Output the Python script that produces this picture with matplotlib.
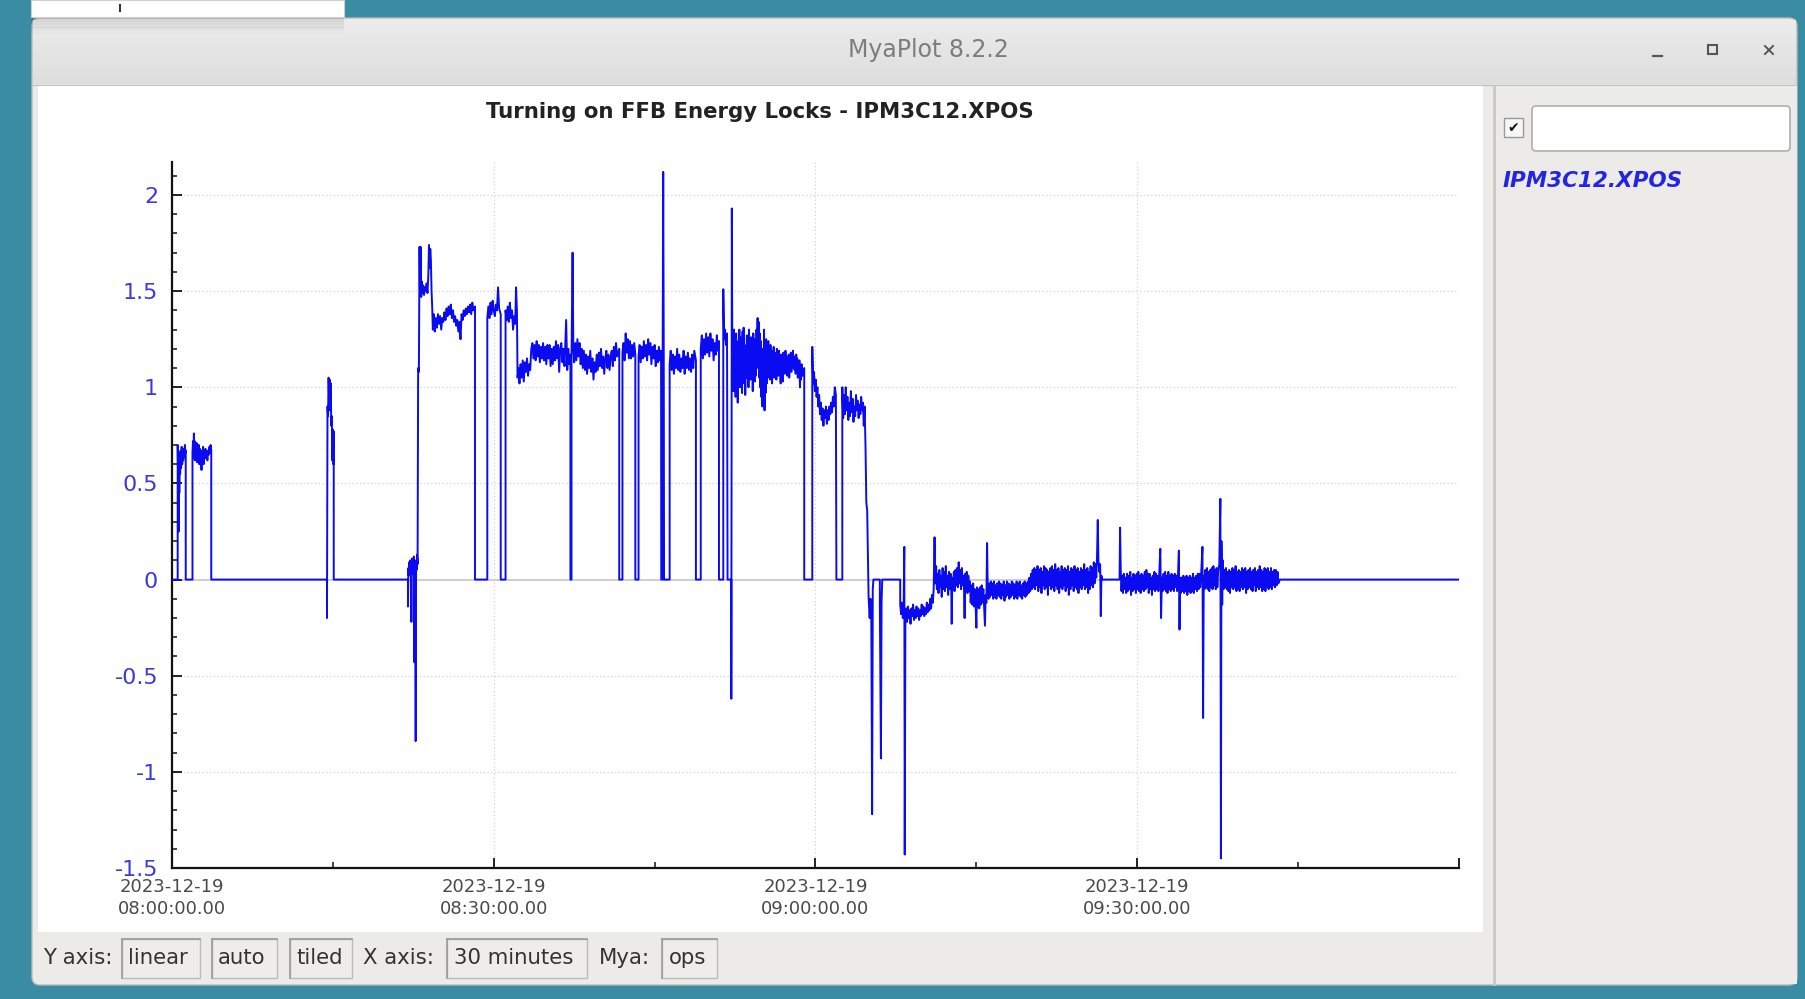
import matplotlib
matplotlib.use("Agg")
import matplotlib.pyplot as plt
from matplotlib.patches import Rectangle, FancyBboxPatch
import numpy as np
import pandas as pd

# ---------------- data: (minutes after 08:00, IPM3C12.XPOS) ----------------
seg_0800 = [(0, 0), (0.53, 0), (0.53, 0.70), (0.58, 0.52), (0.62, 0.25), (0.64, 0.66), (0.68, 0.45),
            (0.72, 0.62), (0.76, 0.55), (0.80, 0.67), (0.85, 0.58), (0.90, 0.69), (0.95, 0.60),
            (1.00, 0.67), (1.05, 0.62), (1.10, 0.68), (1.15, 0.64), (1.20, 0.70), (1.25, 0.66),
            (1.28, 0.67), (1.28, 0), (1.91, 0), (1.91, 0.66), (1.96, 0.72), (2.00, 0.63), (2.04, 0.76),
            (2.08, 0.65), (2.12, 0.72), (2.16, 0.62), (2.20, 0.70), (2.25, 0.64), (2.30, 0.71),
            (2.35, 0.61), (2.40, 0.69), (2.45, 0.63), (2.50, 0.70), (2.55, 0.60), (2.60, 0.68),
            (2.65, 0.64), (2.70, 0.66), (2.75, 0.57), (2.80, 0.67), (2.85, 0.62), (2.90, 0.69),
            (2.95, 0.60), (3.00, 0.66), (3.06, 0.63), (3.12, 0.68), (3.18, 0.64), (3.24, 0.66),
            (3.30, 0.62), (3.36, 0.67), (3.42, 0.65), (3.48, 0.69), (3.54, 0.66), (3.60, 0.70),
            (3.66, 0.67), (3.66, 0), (14.45, 0), (14.45, -0.20), (14.50, 0.90), (14.55, 0.85),
            (14.60, 1.05), (14.65, 0.93), (14.70, 1.04), (14.75, 0.88), (14.80, 1.02), (14.85, 0.80),
            (14.90, 0.85), (14.95, 0.62), (15.00, 0.78), (15.05, 0.60), (15.08, 0.77), (15.08, 0),
            (22.00, 0)]

seg_0822 = [(22.00, -0.14), (22.04, 0.06), (22.08, 0.02), (22.12, 0.09), (22.16, 0.03), (22.20, 0.10),
            (22.24, 0.04), (22.28, 0.08), (22.32, -0.22), (22.36, 0.07), (22.40, 0.11), (22.44, 0.03),
            (22.48, 0.09), (22.52, 0.05), (22.56, 0.12), (22.60, -0.43), (22.64, 0.08), (22.68, 0.06),
            (22.72, -0.84), (22.76, 0.10), (22.80, 0.05), (22.85, 0.13), (22.90, 0.08), (22.95, 1.10),
            (23.02, 1.08), (23.08, 1.73), (23.12, 1.50), (23.18, 1.73), (23.24, 1.47), (23.30, 1.55),
            (23.36, 1.49), (23.42, 1.53), (23.50, 1.48), (23.58, 1.52), (23.66, 1.50), (23.74, 1.54),
            (23.82, 1.49), (23.90, 1.58), (23.96, 1.74), (24.02, 1.62), (24.08, 1.72), (24.14, 1.66),
            (24.20, 1.50), (24.26, 1.42), (24.32, 1.30), (24.40, 1.38)]

seg_0824 = [(24.50, 1.29), (24.60, 1.36), (24.70, 1.31), (24.80, 1.38), (24.90, 1.33), (25.00, 1.37),
            (25.10, 1.30), (25.20, 1.36), (25.30, 1.34), (25.40, 1.39), (25.50, 1.35), (25.60, 1.41),
            (25.70, 1.37), (25.80, 1.42), (25.90, 1.38), (26.00, 1.43), (26.10, 1.36), (26.20, 1.40),
            (26.30, 1.34), (26.40, 1.37), (26.50, 1.32), (26.60, 1.35), (26.70, 1.29), (26.80, 1.34),
            (26.90, 1.25), (27.00, 1.38), (27.10, 1.35), (27.20, 1.40), (27.30, 1.37), (27.40, 1.41),
            (27.50, 1.38), (27.60, 1.42), (27.70, 1.39), (27.80, 1.43), (27.90, 1.38), (28.00, 1.44),
            (28.10, 1.40), (28.25, 1.42), (28.25, 0), (29.40, 0), (29.40, 1.36), (29.50, 1.42),
            (29.60, 1.36), (29.70, 1.44), (29.80, 1.38), (29.90, 1.45), (30.00, 1.40), (30.10, 1.37),
            (30.20, 1.43), (30.30, 1.40), (30.40, 1.52), (30.50, 1.41), (30.65, 1.38), (30.65, 0),
            (31.10, 0), (31.10, 1.40), (31.20, 1.35), (31.30, 1.42), (31.40, 1.34), (31.50, 1.44),
            (31.60, 1.36), (31.70, 1.40), (31.80, 1.30), (31.90, 1.37), (32.00, 1.33), (32.08, 1.52),
            (32.16, 1.40), (32.22, 1.05)]

seg_0832 = [(32.30, 1.10), (32.40, 1.02), (32.50, 1.12), (32.60, 1.05), (32.70, 1.14), (32.80, 1.03),
            (32.90, 1.13), (33.00, 1.08), (33.10, 1.15), (33.20, 1.06), (33.30, 1.12), (33.40, 1.09),
            (33.50, 1.20), (33.60, 1.23), (33.70, 1.15), (33.80, 1.22), (33.90, 1.14), (34.00, 1.24),
            (34.10, 1.16), (34.20, 1.22), (34.30, 1.13), (34.40, 1.21), (34.50, 1.15), (34.60, 1.23),
            (34.70, 1.14), (34.80, 1.21), (34.90, 1.12), (35.00, 1.22), (35.10, 1.15), (35.20, 1.22),
            (35.30, 1.11), (35.40, 1.20), (35.50, 1.12), (35.60, 1.21), (35.70, 1.14), (35.80, 1.24),
            (35.90, 1.15), (36.00, 1.22), (36.10, 1.08), (36.20, 1.20), (36.30, 1.23), (36.40, 1.13),
            (36.50, 1.20), (36.60, 1.11), (36.75, 1.35), (36.85, 1.09), (36.95, 1.20), (37.05, 1.12),
            (37.15, 1.17), (37.15, 0), (37.25, 0), (37.25, 1.15), (37.35, 1.70), (37.42, 1.20),
            (37.50, 1.13), (37.60, 1.23), (37.70, 1.14), (37.80, 1.25), (37.90, 1.16), (38.00, 1.23),
            (38.10, 1.12), (38.20, 1.20), (38.30, 1.10), (38.40, 1.19), (38.50, 1.09), (38.60, 1.17),
            (38.70, 1.07), (38.80, 1.16), (38.90, 1.10), (39.00, 1.19), (39.10, 1.08), (39.20, 1.15),
            (39.30, 1.04), (39.40, 1.13), (39.50, 1.08), (39.60, 1.17), (39.70, 1.09), (39.80, 1.18),
            (39.90, 1.11), (40.00, 1.20), (40.10, 1.10), (40.20, 1.16), (40.30, 1.07), (40.40, 1.15),
            (40.50, 1.19), (40.60, 1.10), (40.70, 1.17), (40.80, 1.09), (40.90, 1.16), (41.00, 1.19),
            (41.10, 1.11), (41.20, 1.21), (41.30, 1.14), (41.40, 1.23), (41.50, 1.16), (41.70, 1.20),
            (41.70, 0), (42.00, 0), (42.00, 1.18), (42.10, 1.23), (42.20, 1.14), (42.30, 1.28),
            (42.40, 1.18), (42.50, 1.25), (42.60, 1.15), (42.70, 1.24), (42.80, 1.15), (42.90, 1.22),
            (43.00, 1.16), (43.10, 1.23), (43.20, 1.17), (43.20, 0), (43.50, 0), (43.50, 1.16),
            (43.60, 1.22), (43.70, 1.13), (43.80, 1.21), (43.90, 1.15), (44.00, 1.24), (44.10, 1.16),
            (44.20, 1.22), (44.30, 1.14), (44.40, 1.25), (44.50, 1.17), (44.60, 1.23), (44.70, 1.12),
            (44.80, 1.21), (44.90, 1.15), (45.00, 1.22), (45.10, 1.11), (45.20, 1.19), (45.30, 1.13),
            (45.40, 1.21), (45.50, 1.14), (45.60, 1.19), (45.62, 0), (45.75, 0), (45.75, 1.20),
            (45.80, 2.12), (45.85, 1.18), (45.88, 0), (46.40, 0), (46.40, 1.12), (46.50, 1.19),
            (46.60, 1.09), (46.70, 1.17), (46.80, 1.07), (46.90, 1.16), (47.00, 1.10), (47.10, 1.20),
            (47.20, 1.09), (47.30, 1.17), (47.40, 1.08), (47.50, 1.15), (47.60, 1.10), (47.70, 1.19),
            (47.80, 1.07), (47.90, 1.16), (48.00, 1.10), (48.10, 1.18), (48.20, 1.09), (48.30, 1.15),
            (48.40, 1.08), (48.50, 1.17), (48.60, 1.10), (48.70, 1.19), (48.85, 1.14), (48.85, 0),
            (49.30, 0), (49.30, 1.20), (49.40, 1.27), (49.50, 1.15), (49.60, 1.25), (49.70, 1.17),
            (49.80, 1.28), (49.90, 1.18), (50.00, 1.26), (50.10, 1.16), (50.20, 1.28), (50.30, 1.19),
            (50.40, 1.25), (50.50, 1.14), (50.60, 1.23), (50.70, 1.17), (50.80, 1.27), (50.90, 1.19),
            (51.00, 1.24), (51.00, 0), (51.40, 0), (51.40, 1.51), (51.48, 1.25), (51.56, 1.30),
            (51.65, 1.22), (51.75, 1.28), (51.80, 0), (52.15, 0), (52.15, -0.62), (52.20, 1.93),
            (52.25, 1.10)]

seg_0852 = [(52.30, 1.25), (52.35, 0.98), (52.40, 1.30), (52.45, 1.05), (52.50, 1.22), (52.55, 0.95),
            (52.60, 1.28), (52.65, 1.02), (52.70, 1.18), (52.75, 0.92), (52.80, 1.24), (52.85, 1.08),
            (52.90, 1.30), (52.95, 1.00), (53.00, 1.26), (53.05, 1.04), (53.10, 1.20), (53.15, 0.97),
            (53.20, 1.29), (53.25, 1.06), (53.30, 1.31), (53.35, 1.02), (53.40, 1.22), (53.45, 0.96),
            (53.50, 1.19), (53.55, 1.05), (53.60, 1.27), (53.65, 1.08), (53.70, 1.24), (53.75, 1.00),
            (53.80, 1.30), (53.85, 1.10), (53.90, 1.22), (53.95, 1.04), (54.00, 1.26), (54.05, 1.08),
            (54.10, 1.20), (54.15, 0.98), (54.20, 1.28), (54.25, 1.10), (54.30, 1.25), (54.35, 1.03),
            (54.40, 1.22), (54.45, 1.06), (54.50, 1.30), (54.55, 1.12), (54.60, 1.36), (54.65, 1.10),
            (54.70, 1.34), (54.75, 1.05), (54.80, 1.28), (54.85, 1.00), (54.90, 1.24), (54.95, 0.95),
            (55.00, 1.20), (55.05, 0.90), (55.10, 1.18), (55.15, 0.93), (55.20, 1.30), (55.25, 0.88),
            (55.30, 1.22), (55.35, 0.97), (55.40, 1.25), (55.45, 1.02), (55.50, 1.20), (55.55, 1.05),
            (55.60, 1.24), (55.65, 1.08), (55.70, 1.18), (55.75, 1.04), (55.80, 1.22), (55.85, 1.06),
            (55.90, 1.19), (55.95, 1.02), (56.00, 1.16), (56.05, 1.08), (56.10, 1.21), (56.15, 1.05),
            (56.20, 1.18), (56.25, 1.10), (56.30, 1.15), (56.35, 1.04), (56.40, 1.20), (56.45, 1.10),
            (56.50, 1.16), (56.55, 1.06), (56.60, 1.19), (56.65, 1.09), (56.70, 1.14), (56.75, 1.02),
            (56.80, 1.17), (56.85, 1.08), (56.90, 1.13), (56.95, 1.03), (57.00, 1.18), (57.05, 1.10),
            (57.10, 1.15), (57.15, 1.07), (57.20, 1.19), (57.25, 1.11), (57.30, 1.16), (57.35, 1.06),
            (57.40, 1.14), (57.45, 1.09), (57.50, 1.17), (57.55, 1.05), (57.60, 1.13), (57.65, 1.10),
            (57.70, 1.18), (57.75, 1.08), (57.80, 1.15), (57.85, 1.10), (57.90, 1.19), (57.95, 1.12),
            (58.00, 1.16), (58.05, 1.09), (58.10, 1.14), (58.15, 1.07), (58.20, 1.17), (58.25, 1.10),
            (58.30, 1.15), (58.35, 1.05), (58.40, 1.12), (58.45, 1.08), (58.50, 1.14), (58.55, 1.00),
            (58.60, 1.10), (58.65, 1.04), (58.70, 1.12), (58.80, 1.06), (58.95, 1.10), (58.95, 0),
            (59.70, 0)]

seg_0859 = [(59.70, 1.21), (59.78, 1.02), (59.86, 1.08), (59.94, 0.98), (60.02, 1.04), (60.10, 0.95),
            (60.18, 1.00), (60.26, 0.90), (60.34, 0.96), (60.42, 0.86), (60.50, 0.92), (60.58, 0.83),
            (60.66, 0.89), (60.74, 0.80), (60.82, 0.88), (60.90, 0.84), (60.98, 0.90), (61.06, 0.81),
            (61.14, 0.88), (61.22, 0.83), (61.30, 0.90), (61.38, 0.86), (61.46, 0.92), (61.54, 0.87),
            (61.62, 0.95), (61.70, 0.90), (61.80, 1.00), (61.90, 0.96), (61.95, 0), (62.50, 0),
            (62.50, 1.00), (62.58, 0.84), (62.66, 0.96), (62.74, 0.86), (62.82, 1.00), (62.90, 0.88),
            (62.98, 0.95), (63.06, 0.83), (63.14, 0.92), (63.22, 0.85), (63.30, 0.98), (63.38, 0.87),
            (63.46, 0.94), (63.54, 0.82), (63.62, 0.90), (63.70, 0.85), (63.78, 0.96), (63.86, 0.88),
            (63.94, 0.93), (64.02, 0.84), (64.10, 0.91), (64.18, 0.86), (64.26, 0.95), (64.34, 0.88),
            (64.42, 0.92), (64.50, 0.80), (64.58, 0.90), (64.66, 0.70), (64.74, 0.40), (64.82, 0.36)]

seg_0905 = [(64.95, -0.09), (65.05, -0.20), (65.12, -0.10), (65.20, -0.15), (65.28, -1.22),
            (65.34, -0.05), (65.40, 0), (66.00, 0), (66.00, -0.13), (66.10, -0.93), (66.16, -0.12),
            (66.22, 0), (67.90, 0), (67.90, -0.13), (67.98, -0.18), (68.06, -0.12), (68.14, -0.20),
            (68.22, -0.14), (68.28, 0.17), (68.32, -1.43), (68.38, -0.22), (68.46, -0.15),
            (68.54, -0.22), (68.62, -0.14), (68.70, -0.20), (68.78, -0.16), (68.86, -0.23),
            (68.94, -0.15), (69.02, -0.19), (69.10, -0.13), (69.18, -0.21), (69.26, -0.16),
            (69.34, -0.20), (69.42, -0.14), (69.50, -0.19), (69.58, -0.15), (69.66, -0.21),
            (69.74, -0.16), (69.82, -0.19), (69.90, -0.13), (69.98, -0.18), (70.06, -0.14),
            (70.14, -0.19), (70.22, -0.15), (70.30, -0.18), (70.38, -0.12), (70.46, -0.17),
            (70.54, -0.13), (70.62, -0.16), (70.70, -0.10), (70.78, -0.15), (70.86, -0.08),
            (70.94, -0.12), (71.02, -0.05), (71.10, 0.22), (71.16, -0.02)]

seg_0911 = [(71.25, 0.07), (71.32, -0.05), (71.40, 0.03), (71.47, -0.07), (71.55, 0.05), (71.62, -0.04),
            (71.70, 0.02), (71.77, -0.09), (71.85, 0.06), (71.92, -0.05), (72.00, 0.04), (72.07, -0.06),
            (72.15, 0.07), (72.22, -0.04), (72.30, 0.02), (72.37, -0.08), (72.45, 0.04), (72.52, -0.05),
            (72.60, 0.03), (72.66, -0.06), (72.70, -0.23), (72.76, 0.01), (72.83, -0.05), (72.90, 0.04),
            (72.97, -0.06), (73.05, 0.05), (73.12, -0.03), (73.20, 0.06), (73.27, -0.04), (73.35, 0.09),
            (73.42, -0.02), (73.50, 0.05), (73.57, -0.05), (73.65, 0.06), (73.72, -0.03), (73.80, 0.02),
            (73.86, -0.07), (73.90, -0.20), (73.96, 0.03), (74.03, -0.05), (74.10, 0.04), (74.17, -0.07),
            (74.25, 0.02), (74.32, -0.06), (74.40, -0.01), (74.47, -0.12), (74.55, -0.03), (74.62, -0.13),
            (74.70, -0.02), (74.77, -0.14), (74.85, -0.05), (74.92, -0.12), (75.00, -0.25),
            (75.06, -0.04), (75.13, -0.14), (75.20, -0.05), (75.27, -0.15), (75.35, -0.04),
            (75.42, -0.13), (75.50, -0.03), (75.57, -0.12), (75.65, -0.05), (75.72, -0.14),
            (75.80, -0.24), (75.86, -0.08), (75.93, -0.12), (76.00, 0.19), (76.06, -0.05),
            (76.13, -0.10), (76.20, -0.02), (76.27, -0.09), (76.35, -0.01), (76.42, -0.08),
            (76.50, -0.02), (76.57, -0.10), (76.65, -0.01), (76.72, -0.09), (76.80, -0.03),
            (76.87, -0.10), (76.95, -0.02), (77.02, -0.08), (77.10, -0.01), (77.17, -0.09),
            (77.25, -0.02), (77.32, -0.10), (77.40, -0.03), (77.47, -0.08), (77.55, -0.01),
            (77.62, -0.11), (77.70, -0.03), (77.77, -0.09), (77.85, -0.01), (77.92, -0.08),
            (78.00, -0.02), (78.07, -0.10), (78.15, -0.03), (78.22, -0.09), (78.30, -0.01),
            (78.37, -0.08), (78.45, -0.02), (78.52, -0.10), (78.60, -0.03), (78.67, -0.09),
            (78.75, -0.01), (78.82, -0.10), (78.90, -0.02), (78.97, -0.08), (79.05, -0.01),
            (79.12, -0.09), (79.20, -0.03), (79.27, -0.10), (79.35, -0.02), (79.42, -0.08),
            (79.50, -0.01), (79.57, -0.09), (79.65, -0.02), (79.72, -0.08), (79.80, -0.01),
            (79.87, -0.07), (79.95, 0.01), (80.02, -0.06), (80.10, 0.03), (80.17, -0.05), (80.25, 0.05),
            (80.32, -0.04), (80.40, 0.06), (80.47, -0.05), (80.55, 0.05), (80.62, -0.03), (80.70, 0.07),
            (80.77, -0.06), (80.85, 0.05), (80.92, -0.04), (81.00, 0.06), (81.07, -0.07), (81.15, 0.04),
            (81.22, -0.03), (81.30, 0.07), (81.37, -0.05), (81.45, 0.06), (81.52, -0.04), (81.60, 0.05),
            (81.67, -0.08), (81.75, 0.04), (81.82, -0.03), (81.90, 0.06), (81.97, -0.05), (82.05, 0.07),
            (82.12, -0.04), (82.20, 0.05), (82.27, -0.06), (82.35, 0.08), (82.42, -0.03), (82.50, 0.05),
            (82.57, -0.05), (82.65, 0.06), (82.72, -0.07), (82.80, 0.04), (82.87, -0.04), (82.95, 0.07),
            (83.02, -0.05), (83.10, 0.05), (83.17, -0.03), (83.25, 0.06), (83.32, -0.06), (83.40, 0.05),
            (83.47, -0.04), (83.55, 0.07), (83.62, -0.08), (83.70, 0.04), (83.77, -0.05), (83.85, 0.06),
            (83.92, -0.03), (84.00, 0.05), (84.07, -0.06), (84.15, 0.07), (84.22, -0.04), (84.30, 0.05),
            (84.37, -0.05), (84.45, 0.06), (84.52, -0.07), (84.60, 0.04), (84.67, -0.04), (84.75, 0.06),
            (84.82, -0.05), (84.90, 0.05), (84.97, -0.03), (85.05, 0.08), (85.12, -0.05), (85.20, 0.05),
            (85.27, -0.04), (85.35, 0.06), (85.42, -0.07), (85.50, 0.04), (85.57, -0.05), (85.65, 0.07),
            (85.72, -0.03), (85.80, 0.06), (85.87, -0.04), (85.95, 0.09), (86.02, -0.02), (86.10, 0.08),
            (86.18, 0.01), (86.25, 0.12), (86.32, 0.31), (86.38, 0.10), (86.46, 0.04), (86.54, 0.08),
            (86.60, -0.19), (86.66, 0.02), (86.70, 0)]

seg_0926 = [(88.35, 0), (88.40, 0.27), (88.46, 0.05), (88.53, -0.06), (88.60, 0.02), (88.67, -0.07),
            (88.75, 0.03), (88.82, -0.05), (88.90, 0.01), (88.97, -0.07), (89.05, 0.03), (89.12, -0.06),
            (89.20, 0.02), (89.27, -0.05), (89.35, 0.04), (89.42, -0.08), (89.50, 0.01), (89.57, -0.06),
            (89.65, 0.03), (89.72, -0.05), (89.80, 0.02), (89.87, -0.07), (89.95, 0.03), (90.02, -0.05),
            (90.10, 0.04), (90.17, -0.06), (90.25, 0.02), (90.32, -0.07), (90.40, 0.03), (90.47, -0.05),
            (90.55, 0.02), (90.62, -0.06), (90.70, 0.04), (90.77, -0.05), (90.85, 0.05), (90.92, -0.04),
            (91.00, 0.03), (91.07, -0.07), (91.15, 0.03), (91.22, -0.05), (91.30, 0.01), (91.37, -0.08),
            (91.45, 0.02), (91.52, -0.05), (91.60, 0.04), (91.67, -0.06), (91.75, 0.03), (91.82, -0.05),
            (91.90, 0.02), (91.97, -0.06), (92.05, 0.03), (92.15, 0.16), (92.22, -0.20), (92.30, 0.01),
            (92.37, -0.06), (92.45, 0.03), (92.52, -0.05), (92.60, 0.04), (92.67, -0.06), (92.75, 0.02),
            (92.82, -0.07), (92.90, 0.04), (92.97, -0.05), (93.05, 0.02), (93.12, -0.06), (93.20, 0.03),
            (93.27, -0.05), (93.35, 0.02), (93.42, -0.06), (93.50, 0.03), (93.57, -0.04), (93.65, 0.02),
            (93.72, -0.06), (93.80, 0.03), (93.88, 0.15), (93.94, -0.26), (94.00, 0.01), (94.07, -0.07),
            (94.15, 0.01), (94.22, -0.06), (94.30, 0.02), (94.37, -0.07), (94.45, 0.01), (94.52, -0.06),
            (94.60, 0.02), (94.67, -0.08), (94.75, 0.01), (94.82, -0.06), (94.90, 0.02), (94.97, -0.07),
            (95.05, 0.01), (95.12, -0.06), (95.20, 0.03), (95.27, -0.07), (95.35, 0.01), (95.42, -0.05),
            (95.50, 0.02), (95.57, -0.06), (95.65, 0.03), (95.72, -0.05), (95.80, 0.03), (95.87, -0.04),
            (95.95, 0.02), (96.08, 0.17), (96.14, -0.72), (96.20, 0.02), (96.27, -0.05), (96.35, 0.05),
            (96.42, -0.04), (96.50, 0.06), (96.57, -0.05), (96.65, 0.04), (96.72, -0.06), (96.80, 0.05),
            (96.87, -0.04), (96.95, 0.06), (97.02, -0.05), (97.10, 0.07), (97.17, -0.03), (97.25, 0.05),
            (97.32, -0.05), (97.40, 0.06), (97.47, -0.04), (97.55, 0.05), (97.65, 0.08), (97.75, 0.42),
            (97.80, -1.45), (97.85, 0.20), (97.92, -0.13), (97.98, 0.10), (98.05, -0.05), (98.12, 0.05),
            (98.20, -0.04), (98.27, 0.06), (98.35, -0.05), (98.42, 0.04), (98.50, -0.06), (98.57, 0.05),
            (98.65, -0.07), (98.72, 0.04), (98.80, -0.04), (98.87, 0.06), (98.95, -0.05), (99.02, 0.05),
            (99.10, -0.04), (99.17, 0.07), (99.25, -0.06), (99.32, 0.04), (99.40, -0.05), (99.47, 0.05),
            (99.55, -0.06), (99.62, 0.04), (99.70, -0.04), (99.77, 0.06), (99.85, -0.05), (99.92, 0.05),
            (100.00, -0.04), (100.07, 0.06), (100.15, -0.07), (100.22, 0.04), (100.30, -0.05),
            (100.37, 0.05), (100.45, -0.04), (100.52, 0.06), (100.60, -0.05), (100.67, 0.04),
            (100.75, -0.06), (100.82, 0.05), (100.90, -0.03), (100.97, 0.06), (101.05, -0.06),
            (101.12, 0.04), (101.20, -0.04), (101.27, 0.05), (101.35, -0.05), (101.42, 0.07),
            (101.50, -0.04), (101.57, 0.05), (101.65, -0.06), (101.72, 0.04), (101.80, -0.05),
            (101.87, 0.06), (101.95, -0.06), (102.02, 0.05), (102.10, -0.04), (102.17, 0.06),
            (102.25, -0.05), (102.32, 0.04), (102.40, -0.04), (102.47, 0.06), (102.55, -0.05),
            (102.62, 0.04), (102.70, -0.03), (102.77, 0.05), (102.85, -0.04), (102.92, 0.05),
            (103.00, -0.03), (103.08, 0.04), (103.15, -0.02), (103.30, 0), (120.0, 0)]

start_time = "2023-12-19 08:00:00"
x_major = ["2023-12-19 08:00", "2023-12-19 08:30", "2023-12-19 09:00", "2023-12-19 09:30", "2023-12-19 10:00"]
x_minor = ["2023-12-19 08:15", "2023-12-19 08:45", "2023-12-19 09:15", "2023-12-19 09:45"]
x_labels = ["2023-12-19\n08:00:00.00", "2023-12-19\n08:30:00.00", "2023-12-19\n09:00:00.00",
            "2023-12-19\n09:30:00.00", ""]
y_major = [-1.5, -1, -0.5, 0, 0.5, 1, 1.5, 2]
y_labels = ["-1.5", "-1", "-0.5", "0", "0.5", "1", "1.5", "2"]
y_minor = [-1.4, -1.3, -1.2, -1.1, -0.9, -0.8, -0.7, -0.6, -0.4, -0.3, -0.2, -0.1, 0.1, 0.2, 0.3, 0.4,
           0.6, 0.7, 0.8, 0.9, 1.1, 1.2, 1.3, 1.4, 1.6, 1.7, 1.8, 1.9, 2.1]
y_range = (-1.5, 2.17)

title = "Turning on FFB Energy Locks - IPM3C12.XPOS"
window_title = "MyaPlot 8.2.2"
pv_name = "IPM3C12.XPOS"
status_labels = [("Y axis:", 43, False), ("linear", 128, True), ("auto", 218, True), ("tiled", 296, True),
                 ("X axis:", 363, False), ("30 minutes", 454, True), ("Mya:", 599, False), ("ops", 669, True)]
status_boxes = [(122, 200), (212, 277), (290, 352), (447, 587), (662, 717)]

# ---------------- assemble series ----------------
segments = [seg_0800, seg_0822, seg_0824, seg_0832, seg_0852, seg_0859, seg_0905, seg_0911, seg_0926]
pts = [p for s in segments for p in s]
minutes = np.array([p[0] for p in pts], dtype=float)
values = np.array([p[1] for p in pts], dtype=float)
t0 = pd.Timestamp(start_time)
times = (t0 + pd.to_timedelta(minutes, unit="min")).to_numpy()

W, H = 1805, 999
TEAL = "#3a8ca3"
fig = plt.figure(figsize=(W / 100, H / 100), dpi=100)
fig.patch.set_facecolor(TEAL)

# ---------------- window chrome (pixel coordinates) ----------------
bg = fig.add_axes([0, 0, 1, 1], zorder=0)
bg.set_xlim(0, W)
bg.set_ylim(H, 0)
bg.axis("off")

bg.add_patch(FancyBboxPatch((32, 18), 1765, 967, boxstyle="round,pad=0,rounding_size=8",
                            fc="#edebe8", ec="#b9b9b9", lw=1))
grad = np.linspace(0.925, 0.87, 64).reshape(-1, 1)
bg.imshow(np.dstack([grad, grad, grad]), extent=[33, 1796, 84, 20], aspect="auto", zorder=1)
bg.plot([33, 1796], [84.5, 84.5], color="#c2c2c2", lw=1, zorder=2)
bg.set_xlim(0, W)
bg.set_ylim(H, 0)
bg.text(928, 50, window_title, ha="center", va="center", fontsize=17, color="#7d7d7d", zorder=3)
bg.plot([1653, 1662], [56, 56], color="#555555", lw=1.6, zorder=3)
bg.add_patch(Rectangle((1708, 45), 9, 9, fc="none", ec="#555555", lw=1.5, zorder=3))
bg.plot([1765, 1773], [46, 54], color="#555555", lw=1.4, zorder=3)
bg.plot([1765, 1773], [54, 46], color="#555555", lw=1.4, zorder=3)

# popup menu remnant at top-left with its soft shadow
for i, a in enumerate(np.linspace(0.10, 0.0, 14)):
    bg.add_patch(Rectangle((31, 17 + i * 1.3), 313, 1.4, fc="black", alpha=a, lw=0, zorder=3))
bg.add_patch(Rectangle((31, 0), 313, 17, fc="white", ec="#d0d0d0", lw=0.8, zorder=4))
bg.plot([120, 120], [5, 11], color="#333333", lw=1.5, zorder=5)

# plot widget
bg.add_patch(Rectangle((38, 86), 1445, 846, fc="white", ec="none", zorder=2))
# right panel
bg.add_patch(Rectangle((1494, 86), 303, 898, fc="#edebe7", ec="none", zorder=2))
bg.plot([1494, 1494], [86, 984], color="#c9c7c3", lw=2, zorder=3)
bg.add_patch(Rectangle((1504, 118), 19, 19, fc="#f7f7f7", ec="#9a9a9a", lw=1, zorder=3))
bg.text(1513.5, 128, "\u2714", ha="center", va="center", fontsize=10, color="#111111", zorder=4)
bg.add_patch(FancyBboxPatch((1532, 106), 258, 45, boxstyle="round,pad=0,rounding_size=4",
                            fc="white", ec="#b0aeaa", lw=1.2, zorder=3))
bg.text(1503, 181, pv_name, ha="left", va="center", fontsize=15.5, color="#2424e6",
        fontweight="bold", fontstyle="italic", zorder=3)

# status bar
for x0, x1 in status_boxes:
    bg.add_patch(Rectangle((x0, 939), x1 - x0, 39, fc="#efedea", ec="#bdbbb7", lw=1, zorder=3))
    bg.plot([x0, x0], [939, 978], color="#9d9b97", lw=1.2, zorder=4)
    bg.plot([x0, x1], [939, 939], color="#9d9b97", lw=1.2, zorder=4)
for txt, x, boxed in status_labels:
    bg.text(x, 958, txt, ha="left", va="center", fontsize=15.3, color="#333333", zorder=5)

bg.text(760, 112, title, ha="center", va="center", fontsize=15.3, fontweight="bold",
        color="#222222", zorder=5)

# ---------------- data axes ----------------
left, right, bottom_px, top_px = 172, 1459, 868, 162.3
ax = fig.add_axes([left / W, (H - bottom_px) / H, (right - left) / W, (bottom_px - top_px) / H], zorder=2)
ax.patch.set_alpha(0)

ax.axhline(0, color="#c9c9c9", lw=1.3, zorder=1)
ax.plot(times, values, color="#0b0bf2", lw=1.4, zorder=3)

ax.set_ylim(*y_range)
ax.set_xlim(pd.Timestamp(x_major[0]).to_datetime64(), pd.Timestamp(x_major[-1]).to_datetime64())
ax.set_yticks(y_major)
ax.set_yticklabels(y_labels)
ax.set_yticks(y_minor, minor=True)
ax.set_xticks(pd.to_datetime(x_major).to_numpy())
ax.set_xticklabels(x_labels, linespacing=1.3)
ax.set_xticks(pd.to_datetime(x_minor).to_numpy(), minor=True)

ax.grid(True, which="major", color="#d2d2d2", linestyle=(0, (1, 2)), linewidth=0.9, zorder=0)

for s in ("top", "right"):
    ax.spines[s].set_visible(False)
for s in ("left", "bottom"):
    ax.spines[s].set_linewidth(1.6)
    ax.spines[s].set_color("#111111")

ax.tick_params(axis="y", which="major", direction="in", length=7, width=1.3, colors="#111111",
               labelcolor="#3b3bdc", labelsize=16, pad=10)
ax.tick_params(axis="y", which="minor", direction="in", length=3.5, width=1.1, colors="#111111")
ax.tick_params(axis="x", which="major", direction="in", length=7, width=1.3, colors="#111111",
               labelcolor="#4a4a4a", labelsize=13, pad=7)
ax.tick_params(axis="x", which="minor", direction="in", length=4, width=1.1, colors="#111111")
for lab in ax.get_xticklabels():
    lab.set_linespacing(1.3)

fig.savefig("out.png", dpi=100, facecolor=fig.get_facecolor())
